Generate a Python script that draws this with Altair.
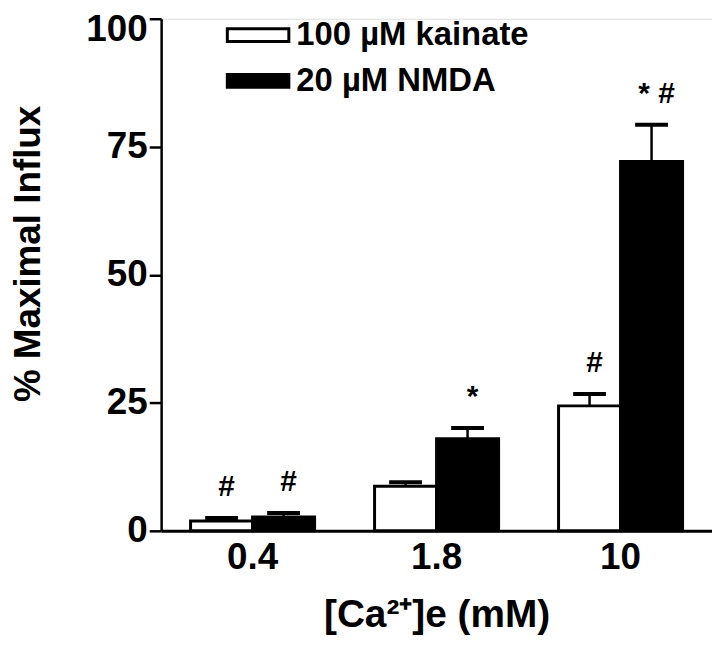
import altair as alt
import pandas as pd

conc = ["0.4", "1.8", "10"]
series = ["100 µM kainate", "20 µM NMDA"]
kainate = [1.9, 8.7, 24.4]
kainate_err = [0.6, 0.8, 2.3]
nmda = [2.7, 18.0, 72.1]
nmda_err = [0.8, 2.1, 7.2]
kainate_sig = ["#", "", "#"]
nmda_sig = ["#", "*", "* #"]

rows = []
for i, c in enumerate(conc):
    rows.append({"conc": c, "series": series[0], "value": kainate[i],
                 "top": kainate[i] + kainate_err[i], "sig": kainate_sig[i]})
    rows.append({"conc": c, "series": series[1], "value": nmda[i],
                 "top": nmda[i] + nmda_err[i], "sig": nmda_sig[i]})
df = pd.DataFrame(rows)

FONT = "Liberation Sans"

x = alt.X("conc:N", sort=conc,
          scale=alt.Scale(paddingInner=0.326, paddingOuter=0.16),
          axis=alt.Axis(title="[Ca²⁺]e (mM)", labelAngle=0, ticks=False,
                        labelFont=FONT, labelFontSize=37, labelFontWeight="bold",
                        labelColor="black", labelPadding=9,
                        titleFont=FONT, titleFontSize=39, titleFontWeight="bold",
                        titleColor="black", titlePadding=20,
                        domainColor="black", domainWidth=3))
xo = alt.XOffset("series:N", sort=series,
                 scale=alt.Scale(paddingInner=0, paddingOuter=0))
yscale = alt.Scale(domain=[0, 100], nice=False)

bars = alt.Chart(df).mark_bar(stroke="black", strokeWidth=3).encode(
    x=x, xOffset=xo,
    y=alt.Y("value:Q", scale=yscale,
            axis=alt.Axis(title="% Maximal Influx", values=[0, 25, 50, 75, 100],
                          grid=False, tickSize=12, tickWidth=2.5, tickColor="black",
                          domainColor="black", domainWidth=2.5,
                          labelFont=FONT, labelFontSize=37, labelFontWeight="bold",
                          labelColor="black", labelPadding=2,
                          labelOffset=alt.ExprRef("datum.value == 100 ? 11 : 0"),
                          titleFont=FONT, titleFontSize=37, titleFontWeight="bold",
                          titleColor="black", titleX=-133, titleY=236,
                          titleAlign="center", titleBaseline="middle")),
    fill=alt.Fill("series:N", sort=series,
                  scale=alt.Scale(domain=series, range=["white", "black"]),
                  legend=alt.Legend(title=None, orient="none", legendX=81, legendY=0,
                                    symbolType="M-2.38,-0.5H2.38V0.5H-2.38Z", symbolSize=676,
                                    symbolStrokeColor="black", symbolStrokeWidth=3,
                                    labelFont=FONT, labelFontSize=33, labelFontWeight="bold",
                                    labelColor="black", labelOffset=22, labelLimit=0,
                                    rowPadding=12)),
)

err = alt.Chart(df).mark_rule(color="black", strokeWidth=2.5).encode(
    x=x, xOffset=xo, y=alt.Y("value:Q", scale=yscale), y2="top:Q")

caps = alt.Chart(df).mark_tick(color="black", size=33, thickness=4, opacity=1).encode(
    x=x, xOffset=xo, y=alt.Y("top:Q", scale=yscale))

sig = alt.Chart(df).mark_text(font=FONT, fontSize=30, fontWeight="bold", color="black",
                              baseline="alphabetic", dy=-22, dx=5).encode(
    x=x, xOffset=xo, y=alt.Y("top:Q", scale=yscale), text="sig:N")

chart = alt.layer(bars, err, caps, sig).properties(
    width=554, height=515,
    autosize=alt.AutoSizeParams(type="none"),
    padding={"left": 154, "top": 9, "right": 0, "bottom": 110},
).configure_view(stroke=None).configure(background="white")

chart.save("out.html", embed_options={"renderer": "svg", "actions": False})
